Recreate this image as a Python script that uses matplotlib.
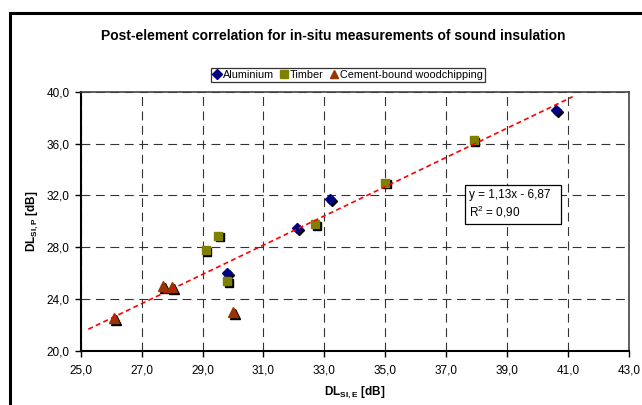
import matplotlib.pyplot as plt
from matplotlib.patches import Rectangle
from matplotlib.transforms import offset_copy
from matplotlib.lines import Line2D

plt.rcParams['font.family'] = ['Liberation Sans', 'DejaVu Sans']
plt.rcParams['mathtext.fontset'] = 'custom'
plt.rcParams['mathtext.rm'] = 'Liberation Sans'
plt.rcParams['mathtext.bf'] = 'Liberation Sans:bold'

# data
alu_x = [40.6, 33.2, 32.1, 29.8]
alu_y = [38.6, 31.7, 29.5, 26.0]
timber_x = [37.9, 35.0, 32.7, 29.5, 29.1, 29.8]
timber_y = [36.3, 33.0, 29.8, 28.9, 27.8, 25.4]
cement_x = [26.1, 27.7, 28.0, 30.0]
cement_y = [22.5, 25.0, 24.9, 23.0]

slope, intercept = 1.13, -6.87
trend_x = [25.25, 41.15]

xticks = [25, 27, 29, 31, 33, 35, 37, 39, 41, 43]
yticks = [20, 24, 28, 32, 36, 40]

fig = plt.figure(figsize=(6.42, 4.05), dpi=100)
ax = fig.add_axes([0.1257, 0.134, 0.854, 0.639])

# outer chart frame (cut off at right and bottom like the original)
fig.patches.append(Rectangle((10.5 / 642, -0.05), 1.0, 1 - 13 / 405 + 0.05,
                             transform=fig.transFigure, fill=False,
                             edgecolor='black', linewidth=2.2, clip_on=False))

series = [
    (alu_x, alu_y, 'D', '#000080', 5.4),
    (timber_x, timber_y, 's', '#808000', 6.2),
    (cement_x, cement_y, '^', '#993300', 7.4),
]
shadow = offset_copy(ax.transData, fig=fig, x=1.8, y=-1.8, units='dots')
for xs, ys, m, c, ms in series:
    ax.plot(xs, ys, linestyle='none', marker=m, markersize=ms, color='black',
            transform=shadow, zorder=3)
    ax.plot(xs, ys, linestyle='none', marker=m, markersize=ms, color=c,
            markeredgecolor=c, zorder=4)

ty = [slope * v + intercept for v in trend_x]
ax.plot(trend_x, ty, color='#ff0000', linestyle=(0, (3, 2)), linewidth=1.2, zorder=5)

ax.set_xlim(25, 43)
ax.set_ylim(20, 40)
ax.set_xticks(xticks)
ax.set_yticks(yticks)
ax.set_xticklabels([f'{v:.1f}'.replace('.', ',') for v in xticks], fontsize=8.5)
ax.set_yticklabels([f'{v:.1f}'.replace('.', ',') for v in yticks], fontsize=8.5)
ax.tick_params(direction='out', length=4, width=1)
ax.tick_params(axis='x', pad=6)
ax.tick_params(axis='y', pad=4)
ax.grid(True, color='#333333', linestyle=(0, (8, 5)), linewidth=0.8)
ax.set_axisbelow(True)
for s in ['left', 'bottom']:
    ax.spines[s].set_linewidth(1.5)
    ax.spines[s].set_color('black')
for s in ['top', 'right']:
    ax.spines[s].set_linewidth(1.2)
    ax.spines[s].set_color('#444444')

ax.set_xlabel(r'DL$_{\mathbf{SI,E}}$ [dB]', fontsize=8.5, fontweight='bold', labelpad=6)
ax.set_ylabel(r'DL$_{\mathbf{SI,P}}$ [dB]', fontsize=8.5, fontweight='bold', labelpad=4)

ax.text(0.708, 0.625, 'y = 1,13x - 6,87  \nR$^2$ = 0,90', transform=ax.transAxes,
        fontsize=8.5, va='top', ha='left', linespacing=1.25,
        bbox=dict(facecolor='white', edgecolor='black', linewidth=0.9, pad=3))

fig.text(0.519, 0.912, 'Post-element correlation for in-situ measurements of sound insulation',
         ha='center', va='center', fontsize=10, fontweight='bold')

handles = [Line2D([], [], linestyle='none', marker=m, markersize=ms * 0.85, color=c)
           for _, _, m, c, ms in series]
leg = fig.legend(handles, ['Aluminium', 'Timber', 'Cement-bound woodchipping'],
                 loc='center', bbox_to_anchor=(0.542, 0.815), ncol=3, fontsize=7.8,
                 frameon=True, fancybox=False, edgecolor='black', handlelength=0.7,
                 handletextpad=0.2, columnspacing=0.6, borderpad=0.2)
leg.get_frame().set_linewidth(0.9)

fig.savefig('out.png', dpi=100)
